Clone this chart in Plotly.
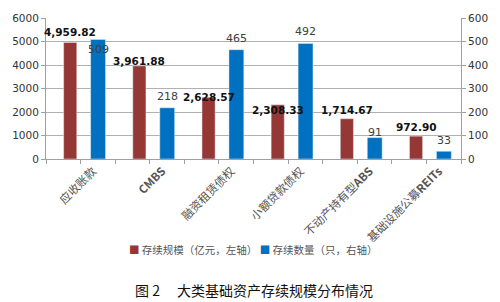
import plotly.graph_objects as go

categories = ["应收账款", "CMBS", "融资租赁债权", "小额贷款债权", "不动产持有型ABS", "基础设施公募REITs"]
tick_text = ["应收账款", "<b>CMBS</b>", "融资租赁债权", "小额贷款债权", "不动产持有型<b>ABS</b>", "基础设施公募<b>REITs</b>"]
scale_values = [4959.82, 3961.88, 2628.57, 2308.33, 1714.67, 972.90]
count_values = [509, 218, 465, 492, 91, 33]
series_names = ["存续规模（亿元，左轴）", "存续数量（只，右轴）"]
title_text = "图 2　 大类基础资产存续规模分布情况"

# label vertical nudges in pixels (style only)
scale_label_shift = [10.5, 5, 0, -5.6, 9, 9]
count_label_shift = [-9.7, 11.6, 11, 12, 5, 11]

RED = "#953735"
BLUE = "#0070C0"
idx = list(range(len(categories)))

red_off, red_w = -0.245, 0.19
blue_off, blue_w = 0.145, 0.215

fig = go.Figure()
fig.add_trace(go.Bar(x=idx, y=scale_values, name=series_names[0], marker_color=RED,
                     width=red_w, offset=red_off, yaxis="y", showlegend=False))
fig.add_trace(go.Bar(x=idx, y=count_values, name=series_names[1], marker_color=BLUE,
                     width=blue_w, offset=blue_off, yaxis="y2", showlegend=False))

for i, v in enumerate(scale_values):
    fig.add_annotation(x=i + red_off + red_w / 2, y=v, xref="x", yref="y",
                       text=f"<b>{v:,.2f}</b>", showarrow=False, yanchor="middle",
                       yshift=scale_label_shift[i],
                       font=dict(family="DejaVu Sans", size=10.5, color="#111"))
for i, v in enumerate(count_values):
    fig.add_annotation(x=i + blue_off + blue_w / 2, y=v, xref="x", yref="y2",
                       text=f"{v}", showarrow=False, yanchor="middle",
                       yshift=count_label_shift[i],
                       font=dict(family="DejaVu Sans", size=11, color="#404040"))

# legend drawn as text
legend_text = (f"<span style='color:{RED}'>■</span> {series_names[0]} "
               f"<span style='color:{BLUE}'>■</span> {series_names[1]}")
fig.add_annotation(x=0.5, y=-0.64, xref="paper", yref="paper", text=legend_text,
                   showarrow=False, xanchor="center", yanchor="middle",
                   font=dict(family="Noto Sans CJK SC", size=10.5, color="#555"))

fig.add_annotation(x=0.5, y=-0.93, xref="paper", yref="paper", text=title_text,
                   showarrow=False, xanchor="center", yanchor="middle",
                   font=dict(family="Noto Sans CJK SC", size=14, color="#111"))

fig.update_layout(
    width=500, height=302,
    margin=dict(l=36, r=36, t=12, b=143),
    paper_bgcolor="white", plot_bgcolor="white",
    barmode="overlay",
    showlegend=False,
    xaxis=dict(type="linear", range=[-0.5, 5.5],
               tickmode="array", tickvals=[i + 0.18 for i in idx], ticktext=tick_text,
               tickangle=-45, ticks="", showgrid=False, zeroline=False,
               showline=True, linecolor="#a0a0a0", linewidth=1,
               tickfont=dict(family="Noto Sans CJK SC", size=11.5, color="#555"),
               minor=dict(tick0=-0.5, dtick=0.5, ticks="outside", ticklen=4,
                          tickcolor="#a0a0a0", showgrid=False)),
    yaxis=dict(range=[0, 6000], dtick=1000, showgrid=True, gridcolor="#b0b0b0",
               gridwidth=1, zeroline=False, showline=True, linecolor="#a0a0a0",
               ticks="outside", ticklen=4, tickcolor="#a0a0a0",
               tickfont=dict(family="DejaVu Sans", size=10.5, color="#333")),
    yaxis2=dict(range=[0, 600], dtick=100, overlaying="y", side="right",
                showgrid=False, zeroline=False, showline=True, linecolor="#a0a0a0",
                ticks="outside", ticklen=4, tickcolor="#a0a0a0",
                tickfont=dict(family="DejaVu Sans", size=10.5, color="#333")),
)

fig.write_html("out.html")
